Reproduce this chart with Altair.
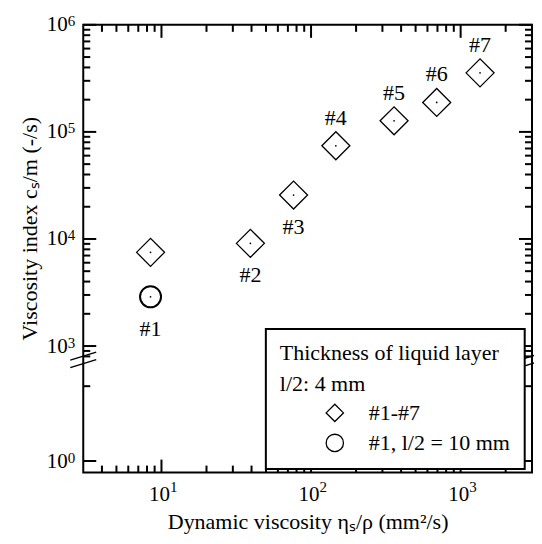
import math
import altair as alt
import pandas as pd

# ---------------- data ----------------
SAMPLES = ["#1", "#2", "#3", "#4", "#5", "#6", "#7"]
VISCOSITY = [8.45, 39.3, 76.4, 146.5, 359.0, 692.0, 1348.0]          # mm2/s
INDEX = [7500, 9100, 25700, 74200, 127000, 188500, 356000]           # -/s
SERIES_MAIN = "#1-#7"
SERIES_THICK = "#1, l/2 = 10 mm"
THICK_SAMPLE = ["#1"]
THICK_VISCOSITY = [8.45]
THICK_INDEX = [2885]
LABEL_SIDE = ["below", "below", "below", "above", "above", "above", "above"]

X_MAJOR = [10, 100, 1000]
X_MINOR = [4, 5, 6, 7, 8, 9] + [k * 10 for k in range(2, 10)] + [k * 100 for k in range(2, 10)] + [2000]
Y_MAJOR = [1, 1e3, 1e4, 1e5, 1e6]
Y_MINOR = [5, 800, 900] + [k * 10 ** e for e in (3, 4, 5) for k in range(2, 10)]

# broken log axis: decades between ~10 and ~800 are cut out
SHIFT = 1.926


def u(v):
    return math.log10(v) if v < 10 else math.log10(v) - SHIFT


UEXPR = f"datum.v < 10 ? log(datum.v) / LN10 : log(datum.v) / LN10 - {SHIFT}"

W, H = 449, 448
FONT = "Liberation Serif"
MAJ, MIN = 13, 7

xs = alt.Scale(type="log", domain=[3, 3000], nice=False)
ys = alt.Scale(domain=[u(0.78), u(1e6)], nice=False, zero=False)


def ax(orient, values, **kw):
    base = dict(orient=orient, values=values, tickSize=MAJ, offset=-MAJ, tickOpacity=0,
                domain=False, grid=False, labelFlush=False, labelOverlap=False,
                labelFont=FONT, labelColor="black")
    base.update(kw)
    if "title" not in kw:
        base["title"] = None
    return alt.Axis(**base)


YMAJ = [u(v) for v in Y_MAJOR]

ax_left_major = ax("left", YMAJ, labelExpr="'10'",
                   labelFontSize=21, labelAlign="right", labelBaseline="middle", labelPadding=16,
                   title="Viscosity index cₛ/m (-/s)", titleFont=FONT, titleFontSize=22,
                   titleFontWeight="normal", titleColor="black", titleAngle=270,
                   titleX=-60, titleY=203.5, titleBaseline="alphabetic", titleAlign="center")
ax_left_exp = ax("left", YMAJ,
                 labelExpr=f"toString(round(datum.value < 0.5 ? datum.value : datum.value + {SHIFT}))",
                 labelFontSize=15, labelAlign="left", labelBaseline="middle",
                 labelPadding=16, labelOffset=-4)
ax_bottom_major = ax("bottom", X_MAJOR, labelExpr="'10'",
                     labelFontSize=21, labelAlign="right", labelBaseline="top", labelPadding=11,
                     labelOffset=8,
                     title="Dynamic viscosity ηₛ/ρ (mm²/s)", titleFont=FONT, titleFontSize=22,
                     titleFontWeight="normal", titleColor="black", titleY=69, titleX=W / 2,
                     titleBaseline="alphabetic", titleAlign="center")
ax_bottom_exp = ax("bottom", X_MAJOR,
                   labelExpr="toString(round(log(datum.value) / LN10))",
                   labelFontSize=15, labelAlign="left", labelBaseline="top", labelPadding=7,
                   labelOffset=8)


def xy(xaxis=None, yaxis=None):
    return dict(x=alt.X("vx:Q", scale=xs, axis=xaxis),
                y=alt.Y("u:Q", scale=ys, axis=yaxis))


main = pd.DataFrame({"sample": SAMPLES, "vx": VISCOSITY, "v": INDEX, "series": SERIES_MAIN})
thick = pd.DataFrame({"sample": THICK_SAMPLE, "vx": THICK_VISCOSITY, "v": THICK_INDEX,
                      "series": SERIES_THICK})
labels = pd.DataFrame({"sample": SAMPLES, "vx": VISCOSITY,
                       "v": [THICK_INDEX[0]] + INDEX[1:], "side": LABEL_SIDE})
dots = pd.concat([main, thick], ignore_index=True)

shape_scale = alt.Scale(domain=[SERIES_MAIN, SERIES_THICK], range=["diamond", "circle"])
legend = alt.Legend(title=["Thickness of liquid layer", "l/2: 4 mm"], orient="none",
                    legendX=182.7, legendY=304.3, direction="vertical",
                    titleFont=FONT, titleFontSize=22, titleFontWeight="normal", titleColor="black",
                    titleLineHeight=31, titlePadding=6, titleLimit=400,
                    labelFont=FONT, labelFontSize=22, labelColor="black", labelLimit=400,
                    labelOffset=23, symbolOffset=44, symbolSize=300, symbolStrokeColor="black",
                    symbolStrokeWidth=1.3, rowPadding=6, padding=14,
                    strokeColor="black", fillColor="white")

diamonds = alt.Chart(main).transform_calculate(u=UEXPR).mark_point(
    size=784, strokeWidth=1.3, color="black", filled=False, opacity=1
).encode(**xy(ax_bottom_major, ax_left_major),
         shape=alt.Shape("series:N", scale=shape_scale, legend=legend))

circle = alt.Chart(thick).transform_calculate(u=UEXPR).mark_point(
    size=441, strokeWidth=2, color="black", filled=False, opacity=1
).encode(**xy(ax_bottom_exp, ax_left_exp),
         shape=alt.Shape("series:N", scale=shape_scale, legend=legend))

centre = alt.Chart(dots).transform_calculate(u=UEXPR).mark_point(
    shape="circle", size=3, filled=True, color="black", opacity=1
).encode(**xy())

lab_below = alt.Chart(labels).transform_filter("datum.side == 'below'").transform_calculate(
    u=UEXPR).mark_text(font=FONT, fontSize=22, color="black", dy=32).encode(
    **xy(), text="sample:N")

lab_above = alt.Chart(labels).transform_filter("datum.side == 'above'").transform_calculate(
    u=UEXPR).mark_text(font=FONT, fontSize=22, color="black", dy=-28).encode(
    **xy(), text="sample:N")

# inward ticks on all four sides: one layer per axis family, side given as a field
y_ticks = pd.DataFrame({
    "v": Y_MAJOR + Y_MINOR + Y_MAJOR + Y_MINOR,
    "len": [MAJ] * len(Y_MAJOR) + [MIN] * len(Y_MINOR) + [MAJ] * len(Y_MAJOR) + [MIN] * len(Y_MINOR),
    "side": ["left"] * (len(Y_MAJOR) + len(Y_MINOR)) + ["right"] * (len(Y_MAJOR) + len(Y_MINOR)),
})
x_ticks = pd.DataFrame({
    "vx": X_MAJOR + X_MINOR + X_MAJOR + X_MINOR,
    "len": [MAJ] * len(X_MAJOR) + [MIN] * len(X_MINOR) + [MAJ] * len(X_MAJOR) + [MIN] * len(X_MINOR),
    "side": ["bottom"] * (len(X_MAJOR) + len(X_MINOR)) + ["top"] * (len(X_MAJOR) + len(X_MINOR)),
})

yt = alt.Chart(y_ticks).transform_calculate(
    u=UEXPR,
    p1=f"datum.side == 'left' ? 0 : {W} - datum.len",
    p2=f"datum.side == 'left' ? datum.len : {W}",
).mark_rule(color="black", strokeWidth=2).encode(
    y=alt.Y("u:Q", scale=ys, axis=None),
    x=alt.X("p1:Q", scale=None, axis=None),
    x2=alt.X2("p2:Q"),
)
xt = alt.Chart(x_ticks).transform_calculate(
    p1=f"datum.side == 'top' ? 0 : {H} - datum.len",
    p2=f"datum.side == 'top' ? datum.len : {H}",
).mark_rule(color="black", strokeWidth=2).encode(
    x=alt.X("vx:Q", scale=xs, axis=None),
    y=alt.Y("p1:Q", scale=None, axis=None),
    y2=alt.Y2("p2:Q"),
)

# axis-break marks (decoration, in pixels of the plot area)
one = pd.DataFrame({"k": [0]})
breaks = []
for cx in (0, W):
    for cy in (331.5, 339.0):
        breaks.append(
            alt.Chart(one).mark_rule(color="black", strokeWidth=1.5).encode(
                x=alt.value(cx - 13), x2=alt.value(cx + 13),
                y=alt.value(cy + 4), y2=alt.value(cy - 4))
        )

chart = alt.layer(diamonds, circle, centre, lab_below, lab_above, yt, xt, *breaks).resolve_axis(
    x="independent", y="independent"
).properties(
    width=W, height=H,
    autosize=alt.AutoSizeParams(type="none"),
    padding={"left": 75.3, "top": 16.7, "right": 2, "bottom": 62},
    background="white",
).configure_view(
    stroke="black", strokeWidth=2
).configure_legend(
    strokeWidth=2
)

chart.save("out.html", embed_options={"renderer": "svg", "actions": False})
